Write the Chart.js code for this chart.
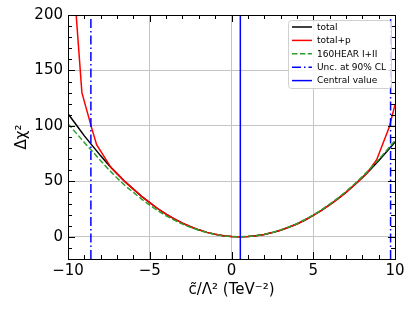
<!DOCTYPE html>
<html>
<head>
<meta charset="utf-8">
<script src="https://cdn.jsdelivr.net/npm/chart.js@4"></script>
<style>
  html, body { margin: 0; padding: 0; background: #fff; }
  #wrap { width: 415px; height: 311px; }
</style>
</head>
<body>
<div id="wrap"><canvas id="chart" width="415" height="311"></canvas></div>
<script>
// x grid for the total and 160HEAR curves
const xs = [-10, -9.5, -9, -8.5, -8, -7.5, -7, -6.5, -6, -5.5, -5, -4.5, -4, -3.5, -3, -2.5, -2, -1.5, -1, -0.5,
  0, 0.5, 1, 1.5, 2, 2.5, 3, 3.5, 4, 4.5, 5, 5.5, 6, 6.5, 7, 7.5, 8, 8.5, 9, 9.5, 10];
const total = [111, 101, 91, 82, 73, 64.5, 57, 49.5, 43, 36.5, 30.8, 25.3, 20.5, 16.2, 12.4, 9.1, 6.3, 4.0, 2.3, 1.0,
  0.25, 0, 0.25, 0.95, 2.1, 3.8, 5.9, 8.6, 11.6, 15.2, 19.3, 23.8, 28.8, 34.2, 40.1, 46.5, 53.4, 60.8, 68.6, 76.9, 85.5];
const hear160 = [102, 93.5, 85, 77, 68.5, 60.5, 53, 46, 40, 34, 28.5, 23.5, 19, 15, 11.5, 8.5, 5.9, 3.8, 2.1, 0.9,
  0.2, 0, 0.25, 1.0, 2.2, 3.9, 6.1, 8.8, 11.9, 15.6, 19.7, 24.3, 29.4, 34.9, 40.9, 47.4, 54.3, 61.8, 69.7, 78.1, 86.8];

// total+p has its own sampling
const totalPX = [-10, -9.15, -8.55, -8.25, -7.35, -7, -6.5, -6, -5.5, -5, -4.5, -4, -3.5, -3, -2.5, -2, -1.5, -1, -0.5,
  0, 0.5, 1, 1.5, 2, 2.5, 3, 3.5, 4, 4.5, 5, 5.5, 6, 6.5, 7, 7.5, 8, 8.3, 8.88, 9.65, 10];
const totalPY = [300, 130, 98, 83, 62, 57, 49.5, 43, 36.5, 30.8, 25.3, 20.5, 16.2, 12.4, 9.1, 6.3, 4.0, 2.3, 1.0,
  0.25, 0, 0.25, 0.95, 2.1, 3.8, 5.9, 8.6, 11.6, 15.2, 19.3, 23.8, 28.8, 34.2, 40.1, 46.5, 53.4, 57.8, 69.5, 99, 119];

const uncLimits = [-8.6, 9.73];
const central = 0.54;

const xTicks = [-10, -5, 0, 5, 10];
const yTicks = [0, 50, 100, 150, 200];
const xRange = [-10, 10];
const yRange = [-20, 200];

const FONT = "'DejaVu Sans', sans-serif";

function pts(x, y) {
  return x.map((v, i) => ({ x: v, y: y[i] }));
}
function vline(x) {
  return [{ x: x, y: yRange[0] }, { x: x, y: yRange[1] }];
}
function minus(v) {
  return v < 0 ? "\u2212" + Math.abs(v) : String(v);
}

// frame, inward ticks on all sides, and the legend inside the plot
const framePlugin = {
  id: "frame",
  afterDraw(chart) {
    const ctx = chart.ctx;
    const a = chart.chartArea;
    const xs_ = chart.scales.x, ys_ = chart.scales.y;
    ctx.save();
    ctx.strokeStyle = "#000";
    ctx.lineWidth = 1;
    ctx.beginPath();
    for (let v = xRange[0]; v <= xRange[1]; v += 1) {
      const p = Math.round(xs_.getPixelForValue(v)) + 0.5;
      const len = v % 5 === 0 ? 7 : 4;
      ctx.moveTo(p, a.bottom); ctx.lineTo(p, a.bottom - len);
      ctx.moveTo(p, a.top); ctx.lineTo(p, a.top + len);
    }
    for (let v = yRange[0]; v <= yRange[1]; v += 10) {
      const p = Math.round(ys_.getPixelForValue(v)) + 0.5;
      const len = v % 50 === 0 ? 7 : 4;
      ctx.moveTo(a.left, p); ctx.lineTo(a.left + len, p);
      ctx.moveTo(a.right, p); ctx.lineTo(a.right - len, p);
    }
    ctx.stroke();
    ctx.strokeRect(Math.round(a.left) + 0.5, Math.round(a.top) + 0.5,
      Math.round(a.right - a.left), Math.round(a.bottom - a.top));

    // legend
    const items = [0, 1, 2, 3, 4].map(i => chart.data.datasets[i]);
    const bx = 288, by = 20, bw = 103, bh = 68;
    ctx.fillStyle = "rgba(255,255,255,0.85)";
    ctx.strokeStyle = "#d0d0d0";
    ctx.beginPath();
    ctx.roundRect(bx + 0.5, by + 0.5, bw, bh, 3);
    ctx.fill();
    ctx.stroke();
    ctx.font = "9px " + FONT;
    ctx.textBaseline = "middle";
    ctx.textAlign = "left";
    items.forEach((d, i) => {
      const yy = by + 7 + i * 13.4;
      ctx.strokeStyle = d.borderColor;
      ctx.lineWidth = 1.5;
      ctx.setLineDash(d.borderDash || []);
      ctx.beginPath();
      ctx.moveTo(bx + 4, yy); ctx.lineTo(bx + 24, yy);
      ctx.stroke();
      ctx.setLineDash([]);
      ctx.fillStyle = "#000";
      ctx.fillText(d.label, bx + 29, yy + 0.5);
    });
    ctx.restore();
  }
};

new Chart(document.getElementById("chart"), {
  type: "line",
  data: {
    datasets: [
      { label: "total", data: pts(xs, total), borderColor: "#000000", order: 5 },
      { label: "total+p", data: pts(totalPX, totalPY), borderColor: "#ff0000", order: 4 },
      { label: "160HEAR I+II", data: pts(xs, hear160), borderColor: "#2ca02c", borderDash: [5.5, 2.4], order: 3 },
      { label: "Unc. at 90% CL",
        data: [...vline(uncLimits[0]), { x: 0, y: null }, ...vline(uncLimits[1])],
        borderColor: "#0000ff", borderDash: [9, 3, 1.5, 3], order: 2 },
      { label: "Central value", data: vline(central), borderColor: "#0000ff", order: 1 }
    ]
  },
  options: {
    responsive: false,
    animation: false,
    layout: { padding: { top: 15, right: 20, left: 0, bottom: 0 } },
    elements: {
      point: { radius: 0 },
      line: { borderWidth: 1.5, tension: 0, fill: false }
    },
    datasets: { line: { spanGaps: false } },
    plugins: { legend: { display: false }, tooltip: { enabled: false } },
    scales: {
      x: {
        type: "linear",
        min: xRange[0], max: xRange[1],
        afterBuildTicks: s => { s.ticks = xTicks.map(v => ({ value: v })); },
        afterFit: s => { s.height = 52; },
        grid: { color: "#c4c4c4", lineWidth: 1, drawTicks: false },
        border: { display: false },
        ticks: { color: "#000", padding: 3, font: { family: FONT, size: 15 }, callback: v => minus(v) },
        title: { display: true, text: "c\u0303/\u039b\u00b2 (TeV\u207b\u00b2)", color: "#000",
          font: { family: FONT, size: 15 }, padding: { top: 0, bottom: 12 } }
      },
      y: {
        type: "linear",
        min: yRange[0], max: yRange[1],
        afterBuildTicks: s => { s.ticks = yTicks.map(v => ({ value: v })); },
        afterFit: s => { s.width = 68; },
        grid: { color: "#c4c4c4", lineWidth: 1, drawTicks: false },
        border: { display: false },
        ticks: { color: "#000", padding: 5, font: { family: FONT, size: 15 }, callback: v => minus(v) },
        title: { display: true, text: "\u0394\u03c7\u00b2", color: "#000",
          font: { family: FONT, size: 15 }, padding: { top: 13, bottom: 0 } }
      }
    }
  },
  plugins: [framePlugin]
});
</script>
</body>
</html>
